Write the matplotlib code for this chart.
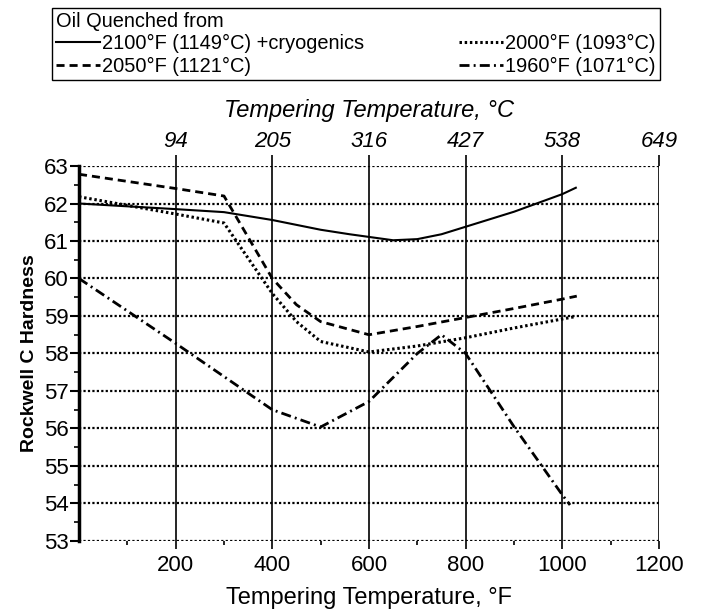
import numpy as np
import matplotlib.pyplot as plt
from matplotlib.lines import Line2D

plt.rcParams['font.family'] = ['Liberation Sans', 'DejaVu Sans']

# tempering temperature (F) and hardness (HRC)
t_cryo = [0, 200, 300, 400, 500, 560, 650, 700, 750, 800, 900, 1000, 1028]
h_cryo = [62.0, 61.85, 61.77, 61.56, 61.3, 61.18, 61.02, 61.05, 61.18, 61.38, 61.78, 62.25, 62.42]

t_2050 = [0, 200, 300, 400, 450, 500, 600, 700, 800, 900, 1000, 1030]
h_2050 = [62.78, 62.4, 62.2, 60.0, 59.3, 58.85, 58.5, 58.72, 58.96, 59.2, 59.45, 59.53]

t_2000 = [0, 200, 300, 400, 450, 500, 600, 700, 800, 900, 1000, 1025]
h_2000 = [62.18, 61.72, 61.48, 59.6, 58.85, 58.32, 58.04, 58.2, 58.42, 58.68, 58.92, 58.98]

t_1960 = [0, 200, 400, 500, 600, 700, 750, 800, 900, 1000, 1016]
h_1960 = [60.0, 58.27, 56.5, 56.04, 56.72, 58.0, 58.5, 58.0, 56.05, 54.23, 53.96]

labels = ['2100°F (1149°C) +cryogenics', '2050°F (1121°C)',
          '2000°F (1093°C)', '1960°F (1071°C)']

f_ticks = [200, 400, 600, 800, 1000, 1200]
c_labels = ['94', '205', '316', '427', '538', '649']

fig = plt.figure(figsize=(7.01, 6.11), dpi=100)
ax = fig.add_axes([0.1127, 0.1146, 0.8273, 0.6137])

l1, = ax.plot(t_cryo, h_cryo, color='black', lw=1.5, ls='-')
l2, = ax.plot(t_2050, h_2050, color='black', lw=2, ls=(0, (2.9, 1.8)))
l3, = ax.plot(t_2000, h_2000, color='black', lw=2.2, ls=(0, (0.8, 0.9)))
l4, = ax.plot(t_1960, h_1960, color='black', lw=2, ls=(0, (3.6, 1.5, 0.7, 1.5)))

ax.set_xlim(0, 1200)
ax.set_ylim(53, 63)
ax.set_xticks(f_ticks)
ax.set_xticks(np.arange(100, 1200, 200), minor=True)
ax.set_yticks(np.arange(53, 64, 1))
ax.set_yticks(np.arange(53.5, 63, 1), minor=True)

ax.grid(axis='y', which='major', color='black', lw=1.6, ls=(0, (1, 1)))
ax.grid(axis='x', which='major', color='black', lw=1.2, ls='-')

for s in ['top', 'right', 'bottom']:
    ax.spines[s].set_visible(False)
ax.spines['left'].set_linewidth(2.5)

ax.tick_params(axis='y', which='major', length=6.5, width=1.5, labelsize=16, pad=1)
ax.tick_params(axis='y', which='minor', length=3.6, width=1.2)
ax.tick_params(axis='x', which='major', length=5.8, width=1.2, labelsize=16, pad=4)
ax.tick_params(axis='x', which='minor', length=3, width=1.2)

ax.set_xlabel('Tempering Temperature, °F', fontsize=17, labelpad=8)
ax.set_ylabel('Rockwell C Hardness', fontsize=14, fontweight='bold', labelpad=4)

top = ax.secondary_xaxis('top')
top.set_xticks(f_ticks)
top.set_xticklabels(c_labels, fontstyle='italic', fontsize=16)
top.tick_params(length=8, width=1.2, pad=2)
top.spines['top'].set_visible(False)
top.set_xlabel('Tempering Temperature, °C', fontsize=17, fontstyle='italic', labelpad=10)

leg = fig.legend([l1, l2, l3, l4], labels, title='Oil Quenched from', ncol=2,
                 loc='upper left', bbox_to_anchor=(0.074, 0.866, 0.8675, 0.121),
                 mode='expand', fontsize=14.4, title_fontsize=14.4, alignment='left',
                 fancybox=False, edgecolor='black', framealpha=1,
                 handlelength=2.2, handletextpad=0.12, borderpad=0.2,
                 labelspacing=0.17, borderaxespad=0, columnspacing=1.0)
leg.get_frame().set_linewidth(1.0)

fig.savefig('out.png', dpi=100)
